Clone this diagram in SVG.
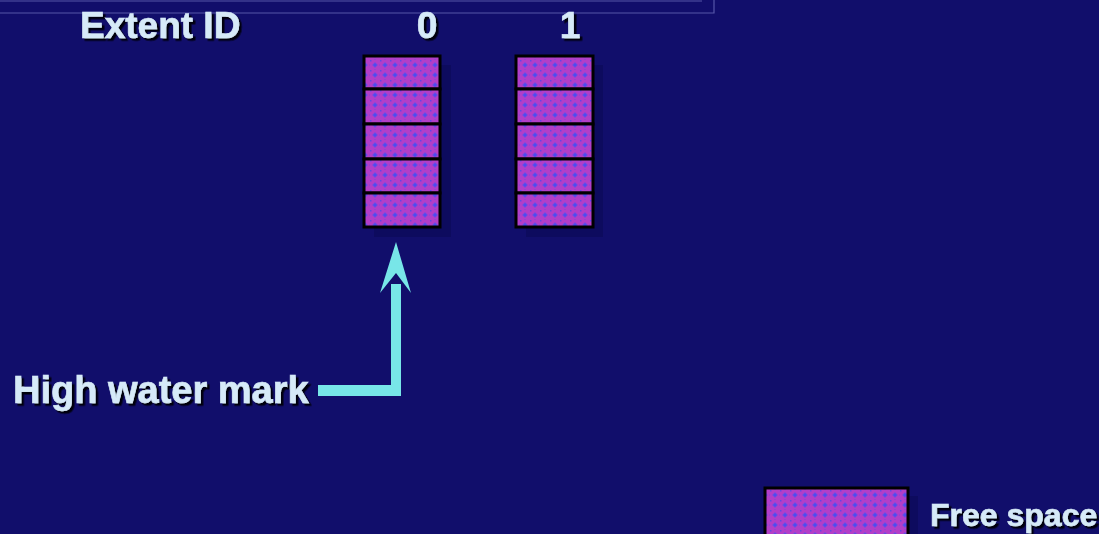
<svg xmlns="http://www.w3.org/2000/svg" width="1099" height="534" viewBox="0 0 1099 534">
<style>
.lbl{font-family:"Liberation Sans",Arial,sans-serif;font-weight:bold;fill:#d6eaf8;stroke:#d6eaf8;stroke-width:0.6;filter:url(#shadow)}
.cell{fill:url(#dots);stroke:#000;stroke-width:3}
.shd{fill:#0c0a58;opacity:0.7}
.frame{fill:none;stroke:#5656a8;stroke-width:1.2}
.arrow{fill:#78e6e8}
</style>
<defs>
<filter id="shadow" x="-10%" y="-20%" width="130%" height="150%">
<feDropShadow dx="2.5" dy="2.5" stdDeviation="0.3" flood-color="#000010" flood-opacity="1"/>
</filter>
<pattern id="dots" width="10" height="10" patternUnits="userSpaceOnUse">
<rect width="10" height="10" fill="#b23ec8"/>
<rect x="2.5" y="4" width="5" height="2" fill="#7a48de"/>
<rect x="4" y="2.5" width="2" height="5" fill="#7a48de"/>
<rect x="3.5" y="3.5" width="3" height="3" fill="#4c4cf0"/>
<rect x="0" y="0" width="1.5" height="1.5" fill="#6446e6"/>
<rect x="9" y="4.5" width="1" height="1" fill="#8044da"/>
<rect x="4.5" y="9" width="1" height="1" fill="#8044da"/>
</pattern>
</defs>
<rect width="1099" height="534" fill="#110e6b"/>
<g id="frame">
<path class="frame" d="M0,1 H702"/>
<path class="frame" d="M0,13 H714 V0"/>
</g>
<g id="header">
<text class="lbl" x="80" y="38" font-size="37">Extent ID</text>
<text class="lbl" x="427" y="38" font-size="37" text-anchor="middle">0</text>
<text class="lbl" x="570" y="38" font-size="37" text-anchor="middle">1</text>
</g>
<g id="extent0">
<rect class="shd" x="374" y="65" width="77" height="172"/>
<rect class="cell" x="364" y="56" width="76" height="33"/>
<rect class="cell" x="364" y="89" width="76" height="35"/>
<rect class="cell" x="364" y="124" width="76" height="35"/>
<rect class="cell" x="364" y="159" width="76" height="34"/>
<rect class="cell" x="364" y="193" width="76" height="34"/>
</g>
<g id="extent1">
<rect class="shd" x="526" y="65" width="77" height="172"/>
<rect class="cell" x="516" y="56" width="77" height="33"/>
<rect class="cell" x="516" y="89" width="77" height="35"/>
<rect class="cell" x="516" y="124" width="77" height="35"/>
<rect class="cell" x="516" y="159" width="77" height="34"/>
<rect class="cell" x="516" y="193" width="77" height="34"/>
</g>
<g id="connectors">
<path class="arrow" d="M318,385 H391 V284 H401 V396 H318 Z"/>
<polygon class="arrow" points="396,242 411,293 396,273 380,293"/>
</g>
<g id="hwm">
<text class="lbl" x="13" y="403" font-size="38">High water mark</text>
</g>
<g id="legend">
<rect class="shd" x="773" y="496" width="145" height="50"/>
<rect class="cell" x="765" y="488" width="143" height="60"/>
<text class="lbl" x="930" y="526" font-size="32">Free space</text>
</g>
</svg>
